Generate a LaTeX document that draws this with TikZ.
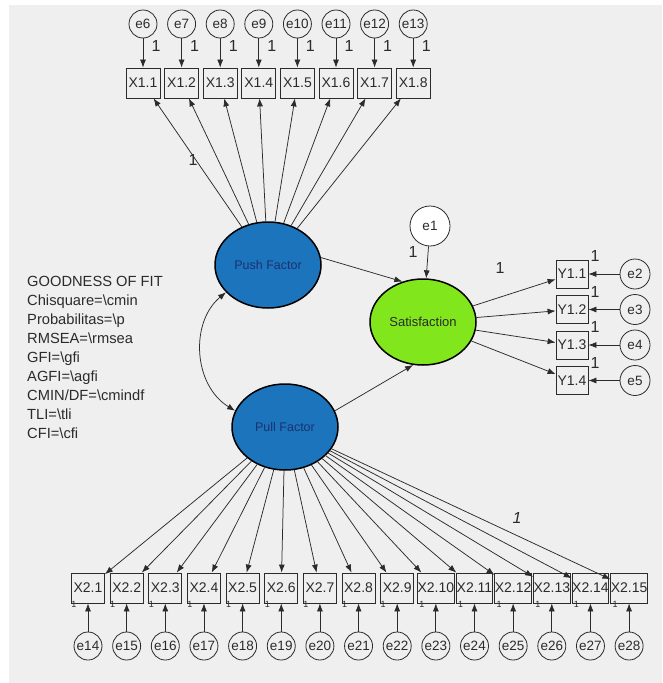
\documentclass[tikz,border=0pt]{standalone}
\usepackage{fontspec}
\setmainfont{Liberation Sans}
\usetikzlibrary{shapes.geometric,arrows.meta}
\definecolor{bg}{HTML}{EFEFEF}
\definecolor{pushblue}{HTML}{1C74BC}
\definecolor{satgreen}{HTML}{82E61C}
\definecolor{navy}{HTML}{1B3270}
\definecolor{ink}{HTML}{2B2B2B}
\begin{document}
\begin{tikzpicture}[x=1pt,y=-1pt,
  every node/.style={inner sep=0pt},
  errc/.style={circle,draw=ink,line width=0.8pt,minimum size=28pt,font=\fontsize{13.5}{14}\selectfont,text=ink},
  obsv/.style={rectangle,draw=ink,line width=0.8pt,minimum width=34pt,minimum height=30pt,font=\fontsize{14}{14}\selectfont,text=ink},
  latent/.style={ellipse,draw=black,line width=1.5pt,minimum width=106pt,minimum height=86pt},
  arr/.style={-{Latex[length=8pt,width=6pt]},draw=ink,line width=0.75pt},
  dbl/.style={{Latex[length=8pt,width=6pt]}-{Latex[length=8pt,width=6pt]},draw=ink,line width=0.75pt},
  one/.style={font=\fontsize{16}{16}\selectfont,text=ink},
  tinyone/.style={font=\fontsize{9}{9}\selectfont,text=ink}
]
\useasboundingbox (0,0) rectangle (662,683);
\fill[white] (0,0) rectangle (662,683);
\fill[bg] (9,5) rectangle (662,683);

% latent variables
\node[latent,fill=pushblue,text=navy,font=\fontsize{12.5}{13}\selectfont] (push) at (268,265) {Push Factor};
\node[latent,fill=pushblue,text=navy,font=\fontsize{12.5}{13}\selectfont] (pull) at (285,427) {Pull Factor};
\node[latent,fill=satgreen,text=ink,font=\fontsize{13}{13}\selectfont] (sat) at (423,322) {Satisfaction};
\node[errc,minimum size=40pt,fill=white] (e1) at (430,226) {e1};

% top indicators
\foreach \i in {1,...,8}{
  \pgfmathsetmacro{\xx}{143+38.6*(\i-1)}
  \pgfmathtruncatemacro{\ee}{\i+5}
  \node[errc] (e\ee) at (\xx,24) {e\ee};
  \node[obsv] (x1-\i) at (\xx,83) {X1.\i};
  \draw[arr] (e\ee) -- (x1-\i);
  \draw[arr] (push) -- (x1-\i);
  \node[one] (o\ee) at (\xx+13,46) {1};
}

% bottom indicators
\foreach \i in {1,...,15}{
  \pgfmathsetmacro{\xx}{88+38.65*(\i-1)}
  \pgfmathtruncatemacro{\ee}{\i+13}
  \node[errc] (e\ee) at (\xx,646) {e\ee};
  \node[obsv,minimum width=33pt] (x2-\i) at (\xx,588) {X2.\i};
  \draw[arr] (e\ee) -- (x2-\i);
  \draw[arr] (pull) -- (x2-\i);
  \node[tinyone] (t\ee) at (\xx-14,604) {1};
}

% satisfaction indicators
\foreach \i/\yy in {1/274,2/309.5,3/345,4/380.5}{
  \pgfmathtruncatemacro{\ee}{\i+1}
  \node[obsv,minimum width=32pt,minimum height=28pt] (y1-\i) at (572,\yy) {Y1.\i};
  \node[errc,minimum size=30pt] (e\ee) at (635,\yy) {e\ee};
  \draw[arr] (e\ee) -- (y1-\i);
  \draw[arr] (sat) -- (y1-\i);
  \node[one] (u\ee) at (595,\yy-18) {1};
}

% structural paths
\draw[arr] (push.8) -- (sat.117);
\draw[arr] (pull.18) -- (sat.257);
\draw[arr] (e1) -- (sat);
\draw[dbl] (push.213) .. controls (190,322) and (193,385) .. (pull.162);

% path labels
\node[one] (l1) at (193,160) {1};
\node[one] (l2) at (517,518) {\itshape 1};
\node[one] (l3) at (500,268) {1};
\node[one] (l4) at (413,252) {1};

% fit block
\node[anchor=north west,align=left,text=ink,font=\fontsize{14.7}{18.9}\selectfont] (fit) at (27,276.5)
 {GOODNESS OF FIT\\
  Chisquare=\textbackslash cmin\\
  Probabilitas=\textbackslash p\\
  RMSEA=\textbackslash rmsea\\
  GFI=\textbackslash gfi\\
  AGFI=\textbackslash agfi\\
  CMIN/DF=\textbackslash cmindf\\
  TLI=\textbackslash tli\\
  CFI=\textbackslash cfi};
\end{tikzpicture}
\end{document}
